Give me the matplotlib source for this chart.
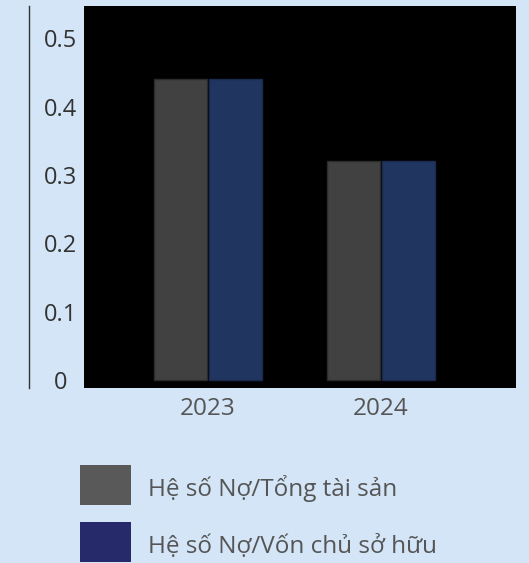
import numpy as np
import matplotlib
matplotlib.use("Agg")
import matplotlib.pyplot as plt
from matplotlib.patches import Rectangle
from matplotlib.lines import Line2D

plt.rcParams['font.family'] = ['Open Sans', 'DejaVu Sans']

years = ['2023', '2024']
debt_to_assets = [0.44, 0.32]
debt_to_equity = [0.44, 0.32]
ytick_vals = [0, 0.1, 0.2, 0.3, 0.4, 0.5]
ytick_text = ['0', '0.1', '0.2', '0.3', '0.4', '0.5']
series_names = ['Hệ số Nợ/Tổng tài sản', 'Hệ số Nợ/Vốn chủ sở hữu']
legend_colors = ['#595959', '#272a6a']

W, H = 529, 563
bg = '#d3e5f6'
fig = plt.figure(figsize=(W/100, H/100), dpi=100, facecolor=bg)
ax = fig.add_axes([84/W, 1-388/H, 432/W, 382/H])
ax.set_facecolor('black')

x = np.arange(len(years))
w = 0.305
ax.bar(x - w/2 - 0.006, debt_to_assets, w, color='#414141', edgecolor='#2b2b2b', linewidth=1)
ax.bar(x + w/2 + 0.006, debt_to_equity, w, color='#213561', edgecolor='#1a2a4c', linewidth=1)

ax.set_xlim(-0.717, 1.78)
ax.set_ylim(-0.0117, 0.547)
ax.set_xticks(x)
ax.set_xticklabels(years, fontsize=17.5, color='#555555')
ax.set_yticks(ytick_vals)
ax.set_yticklabels(ytick_text, fontsize=17, color='#333333')
ax.tick_params(axis='both', length=0)
ax.tick_params(axis='x', pad=6.5)
ax.tick_params(axis='y', pad=17)
for lbl in ax.get_yticklabels():
    lbl.set_horizontalalignment('center')
for s in ax.spines.values():
    s.set_visible(False)

# separate left rule
fig.add_artist(Line2D([29/W, 29/W], [1-388/H, 1-6/H], color='#333333', linewidth=1))

# legend drawn by hand to match the boxed swatches
for i, (name, col) in enumerate(zip(series_names, legend_colors)):
    top = 465 + i*57
    fig.add_artist(Rectangle((80/W, 1-(top+40)/H), 51/W, 40/H, facecolor=col,
                             edgecolor='none', transform=fig.transFigure))
    fig.text(148/W, 1-(top+31)/H, name, fontsize=17.5, color='#555555', va='baseline', ha='left')

fig.savefig('out.png', dpi=100, facecolor=bg)
